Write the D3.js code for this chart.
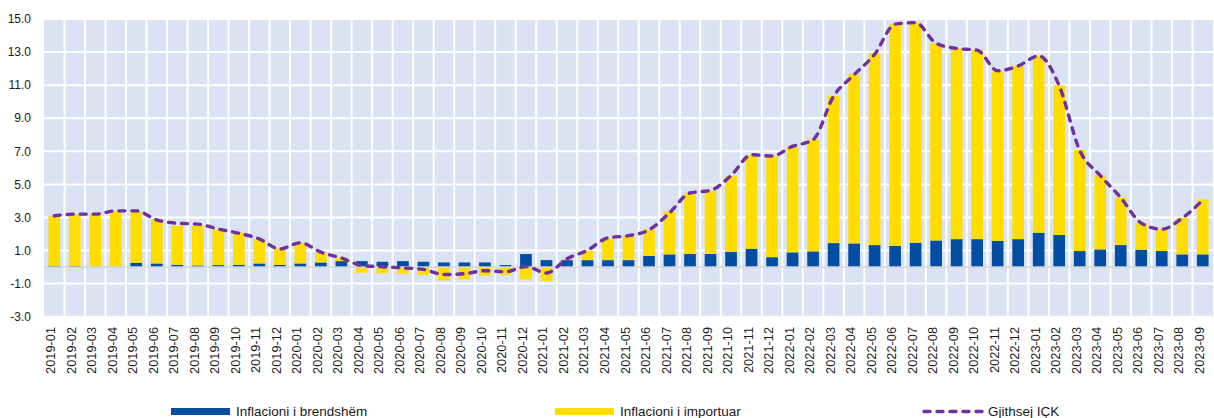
<!DOCTYPE html>
<html>
<head>
<meta charset="utf-8">
<script src="https://cdn.jsdelivr.net/npm/d3@7"></script>
<style>
    body { margin: 0; background: #ffffff; }
    svg text { font-family: Arial, "Liberation Sans", sans-serif; fill: #1a1a1a; }
</style>
</head>
<body>
<svg id="chart" width="1214" height="418"></svg>
<script>
// Months (x categories)
const months = [
    '2019-01','2019-02','2019-03','2019-04','2019-05','2019-06','2019-07','2019-08','2019-09','2019-10','2019-11','2019-12',
    '2020-01','2020-02','2020-03','2020-04','2020-05','2020-06','2020-07','2020-08','2020-09','2020-10','2020-11','2020-12',
    '2021-01','2021-02','2021-03','2021-04','2021-05','2021-06','2021-07','2021-08','2021-09','2021-10','2021-11','2021-12',
    '2022-01','2022-02','2022-03','2022-04','2022-05','2022-06','2022-07','2022-08','2022-09','2022-10','2022-11','2022-12',
    '2023-01','2023-02','2023-03','2023-04','2023-05','2023-06','2023-07','2023-08','2023-09'
];

// Inflacioni i brendshëm (domestic contribution)
const domestic = [
    0.08, 0.06, 0.02, 0.02, 0.26, 0.22, 0.14, 0.10, 0.12, 0.14, 0.22, 0.14,
    0.22, 0.28, 0.36, 0.36, 0.32, 0.36, 0.32, 0.28, 0.28, 0.28, 0.12, 0.79,
    0.42, 0.42, 0.42, 0.42, 0.42, 0.67, 0.77, 0.79, 0.79, 0.91, 1.11, 0.60,
    0.89, 0.95, 1.45, 1.43, 1.33, 1.29, 1.47, 1.61, 1.69, 1.69, 1.59, 1.69,
    2.08, 1.94, 0.97, 1.07, 1.33, 1.05, 0.97, 0.77, 0.77
];

// Inflacioni i importuar (imported contribution)
const imported = [
    3.00, 3.10, 3.20, 3.35, 3.10, 2.68, 2.36, 2.40, 2.16, 1.96, 1.45, 0.99,
    1.25, 0.59, 0.20, -0.34, -0.38, -0.40, -0.47, -0.80, -0.74, -0.51, -0.47, -0.75,
    -0.84, 0.08, 0.57, 1.31, 1.46, 1.61, 2.58, 3.67, 3.83, 4.59, 5.66, 6.11,
    6.39, 6.77, 8.91, 10.24, 11.59, 13.41, 13.31, 11.92, 11.54, 11.44, 10.26, 10.49,
    10.70, 9.05, 6.11, 4.49, 2.88, 1.59, 1.33, 2.21, 3.32
];

// Gjithsej IÇK (total)
const total = [
    3.10, 3.20, 3.20, 3.40, 3.40, 2.85, 2.65, 2.60, 2.30, 2.05, 1.70, 1.10,
    1.47, 0.90, 0.55, 0.10, 0.02, -0.05, -0.14, -0.45, -0.40, -0.22, -0.28, 0.03,
    -0.36, 0.50, 1.02, 1.77, 1.90, 2.25, 3.28, 4.48, 4.64, 5.53, 6.79, 6.72,
    7.30, 7.70, 10.33, 11.63, 12.86, 14.69, 14.78, 13.53, 13.22, 13.12, 11.87, 12.16,
    12.77, 10.97, 7.06, 5.54, 4.20, 2.66, 2.29, 2.96, 4.05
];

// Y axis ticks
const yTicks = [-3, -1, 1, 3, 5, 7, 9, 11, 13, 15];

const seriesNames = ['Inflacioni i brendshëm', 'Inflacioni i importuar', 'Gjithsej IÇK'];
const colors = { domestic: '#034ea2', imported: '#ffdd00', total: '#7030a0' };

const svg = d3.select('#chart');
const margin = { left: 44, right: 1213, top: 19, bottom: 316.7 };

const x = d3.scaleBand().domain(months).range([margin.left, margin.right]).paddingInner(0).paddingOuter(0);
const y = d3.scaleLinear().domain([-3, 15]).range([margin.bottom, margin.top]);
const barWidth = x.bandwidth() * 0.57;

// Plot background
svg.append('rect')
    .attr('x', margin.left).attr('y', margin.top)
    .attr('width', margin.right - margin.left).attr('height', margin.bottom - margin.top)
    .attr('fill', '#dae3f3');

// Grid
const grid = svg.append('g').attr('class', 'grid');
grid.selectAll('line.h').data(yTicks).enter().append('line')
    .attr('class', 'h')
    .attr('x1', margin.left).attr('x2', margin.right)
    .attr('y1', d => y(d)).attr('y2', d => y(d))
    .attr('stroke', '#ffffff').attr('stroke-width', 2);

grid.selectAll('line.v').data(months.slice(1)).enter().append('line')
    .attr('class', 'v')
    .attr('x1', d => x(d)).attr('x2', d => x(d))
    .attr('y1', margin.top).attr('y2', margin.bottom)
    .attr('stroke', '#ffffff').attr('stroke-width', 2);

// Stacked bars (diverging)
const table = months.map((m, i) => ({ month: m, domestic: domestic[i], imported: imported[i] }));
const stack = d3.stack().keys(['domestic', 'imported']).offset(d3.stackOffsetDiverging);
const layers = stack(table);

svg.append('g').attr('class', 'bars')
    .selectAll('g.layer').data(layers).enter().append('g')
    .attr('class', 'layer')
    .attr('fill', d => colors[d.key])
    .selectAll('rect').data(d => d).enter().append('rect')
    .attr('x', d => x(d.data.month) + (x.bandwidth() - barWidth) / 2)
    .attr('width', barWidth)
    .attr('y', d => y(Math.max(d[0], d[1])))
    .attr('height', d => Math.abs(y(d[0]) - y(d[1])));

// Zero line
svg.append('line')
    .attr('x1', margin.left).attr('x2', margin.right)
    .attr('y1', y(0)).attr('y2', y(0))
    .attr('stroke', '#d6d6d6').attr('stroke-width', 1.5);

// Total line (smoothed, dashed)
const line = d3.line()
    .x((d, i) => x(months[i]) + x.bandwidth() / 2)
    .y(d => y(d))
    .curve(d3.curveMonotoneX);

svg.append('path')
    .datum(total)
    .attr('d', line)
    .attr('fill', 'none')
    .attr('stroke', colors.total)
    .attr('stroke-width', 3.4)
    .attr('stroke-linecap', 'round')
    .attr('stroke-dasharray', '6,7');

// Y axis labels
svg.append('g').attr('class', 'y-labels')
    .selectAll('text').data(yTicks).enter().append('text')
    .attr('x', 31).attr('y', d => y(d))
    .attr('dy', '0.35em')
    .attr('text-anchor', 'end')
    .style('font-size', '12px')
    .text(d => d.toFixed(1));

// X axis labels
svg.append('g').attr('class', 'x-labels')
    .selectAll('text').data(months).enter().append('text')
    .attr('transform', d => `translate(${x(d) + x.bandwidth() / 2 + 1},${327}) rotate(-90)`)
    .attr('text-anchor', 'end')
    .style('font-size', '12.8px')
    .text(d => d);

// Legend
const legend = svg.append('g').attr('class', 'legend');
const legendItems = [
    { name: seriesNames[0], x: 171, type: 'rect', color: colors.domestic },
    { name: seriesNames[1], x: 555, type: 'rect', color: colors.imported },
    { name: seriesNames[2], x: 923, type: 'line', color: colors.total },
];
legendItems.forEach(d => {
    if (d.type === 'rect') {
        legend.append('rect').attr('x', d.x).attr('y', 408).attr('width', 59).attr('height', 7).attr('fill', d.color);
    } else {
        legend.append('line').attr('x1', d.x + 1).attr('x2', d.x + 59).attr('y1', 411.5).attr('y2', 411.5)
            .attr('stroke', d.color).attr('stroke-width', 3.4)
            .attr('stroke-linecap', 'round').attr('stroke-dasharray', '6,7');
    }
    legend.append('text')
        .attr('x', d.x + 65).attr('y', 415.5)
        .style('font-size', '13.5px')
        .text(d.name);
});
</script>
</body>
</html>
